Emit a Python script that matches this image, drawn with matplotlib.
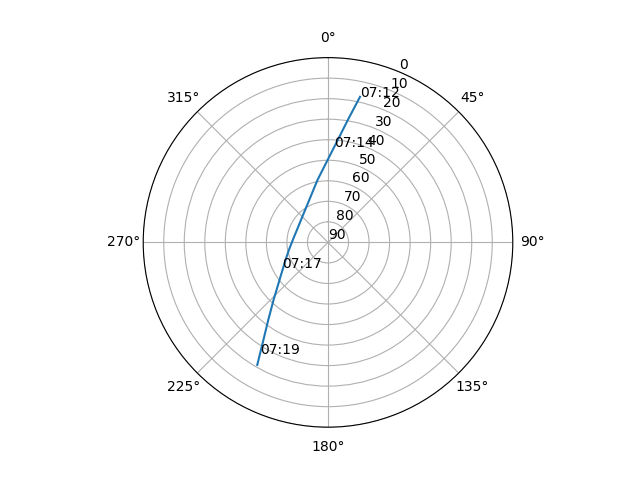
import numpy as np
import matplotlib
matplotlib.use("Agg")
import matplotlib.pyplot as plt

# pass track: azimuth (deg, from north, clockwise) and elevation (deg)
az = [12.4, 9.2, 3.8, 359.7, 350.4, 336.2, 309.7, 291.7, 273.9, 259.0,
      247.5, 232.2, 223.4, 217.6, 213.5, 210.0]
el = [17.4, 29.6, 43.3, 49.9, 59.2, 67.4, 72.9, 73.7, 72.8, 70.6,
      67.6, 60.1, 51.4, 42.3, 33.0, 21.1]

# time marks
times = ["07:12", "07:14", "07:17", "07:19"]
time_az = [12.4, 3.4, 240.3, 211.1]
time_el = [17.4, 43.3, 64.5, 26.4]

fig = plt.figure(figsize=(6.4, 4.8))
ax = fig.add_subplot(111, projection="polar")
ax.set_theta_zero_location("N")
ax.set_theta_direction(-1)

theta = np.unwrap(np.radians(az))
ax.plot(theta, el)

for t, a, e in zip(times, time_az, time_el):
    ax.text(np.radians(a), e, t)

ax.set_rlim(90, 0)
ax.set_yticks(range(0, 91, 10))

plt.savefig("out.png")
